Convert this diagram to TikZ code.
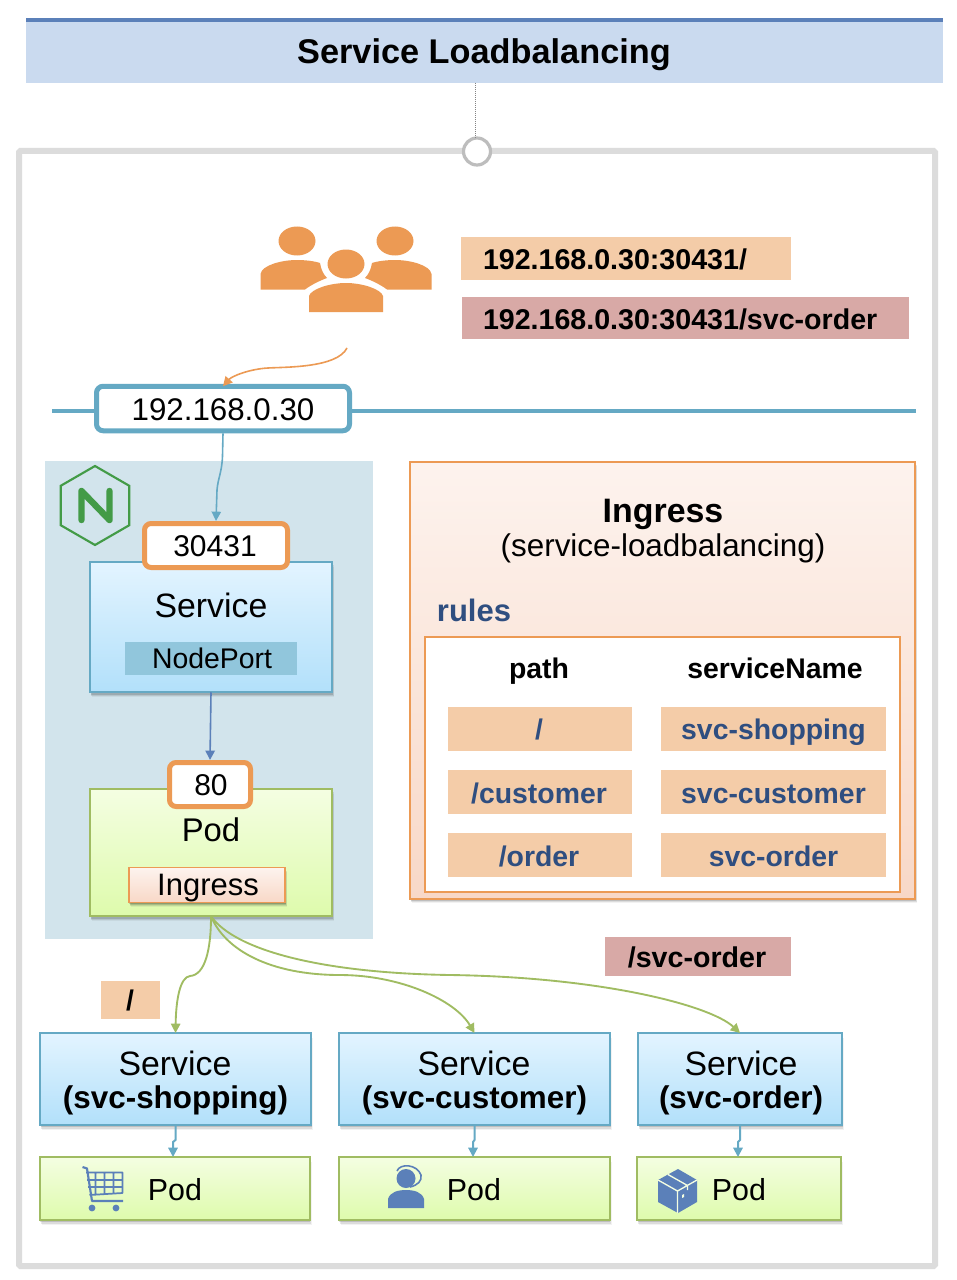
\documentclass[tikz,border=0pt]{standalone}
\usepackage{fontspec}
\setmainfont{Liberation Sans}
\usetikzlibrary{arrows.meta,shadows,shapes.geometric,calc}
\definecolor{nettl}{HTML}{65A9C4}
\definecolor{orng}{HTML}{EC9A54}
\definecolor{bluel}{HTML}{5B80B9}
\definecolor{grn}{HTML}{A0BC62}
\definecolor{peach}{HTML}{F4CCA8}
\definecolor{rose}{HTML}{D8A9A6}
\definecolor{navy}{HTML}{2F4E80}
\definecolor{titlefill}{HTML}{CADAEF}
\definecolor{panelfill}{HTML}{D2E4EC}
\definecolor{framec}{HTML}{DCDCDC}
\definecolor{ringc}{HTML}{BDBDBD}
\definecolor{nportc}{HTML}{91C6DC}
\definecolor{nginx}{HTML}{439B47}
\definecolor{Ea}{HTML}{E3F4FF}
\definecolor{Ba}{HTML}{B2E0FA}
\definecolor{Eb}{HTML}{F4FEE2}
\definecolor{Bb}{HTML}{DEFBAC}
\definecolor{Ec}{HTML}{FDF3EE}
\definecolor{Bc}{HTML}{F8D8C7}
\newcommand{\fpx}[1]{\fontsize{\dimexpr#1pt*3/4\relax}{\dimexpr#1pt*9/10\relax}\selectfont}
\tikzset{
 x=0.75pt,y=-0.75pt,
 wh/.style 2 args={minimum width=#1*0.75pt,minimum height=#2*0.75pt,inner sep=0pt,outer sep=0pt},
 softshadow/.style={
   drop shadow={shadow xshift=0.3pt,shadow yshift=-0.8pt,opacity=.16,fill=black},
   drop shadow={shadow xshift=0.7pt,shadow yshift=-1.7pt,opacity=.13,fill=black},
   drop shadow={shadow xshift=1.1pt,shadow yshift=-2.7pt,opacity=.09,fill=black},
   drop shadow={shadow xshift=1.5pt,shadow yshift=-3.7pt,opacity=.05,fill=black}},
 svcbox/.style={draw=nettl,line width=1.5pt,top color=Ea,bottom color=Ba,softshadow},
 podbox/.style={draw=grn,line width=1.5pt,top color=Eb,bottom color=Bb,softshadow},
 ingbox/.style={draw=orng,line width=1.5pt,top color=Ec,bottom color=Bc,softshadow},
 portbox/.style={draw=orng,line width=3.75pt,rounded corners=5pt,fill=white},
 lbl/.style={anchor=base,inner sep=0pt,outer sep=0pt,text=black},
 bold/.style={lbl,font=\fpx{#1}\bfseries},
 reg/.style={lbl,font=\fpx{#1}},
 rowbold/.style={bold=28.4,text=navy},
 flow/.style={line width=1.2pt,-{Triangle[length=7pt,width=7pt]}},
 gflow/.style={flow,grn,line width=1.4pt},
 stepflow/.style={flow,nettl,line width=1.5pt},
}
\begin{document}
\begin{tikzpicture}
\useasboundingbox (0,0) rectangle (956,1280);
\fill[white] (0,0) rectangle (956,1280);
% title
\node[wh={917}{65},fill=titlefill] (title) at (484.5,50.5) {};
\fill[bluel] (26,18) rectangle (943,22);
\node[bold=34.3] (titletext) at (484,64) {Service Loadbalancing};
% frame
\node[draw=framec,line width=4.5pt,wh={916}{1115},rounded corners=1pt] (frame) at (477,708.5) {};
\node[circle,draw=ringc,line width=2.4pt,fill=white,wh={27}{27}] (ring) at (477,151.5) {};
\coordinate (dottop) at (475.3,83);
\draw[ringc!70!black,line width=0.5pt,densely dotted] (dottop) -- (ring.north -| dottop);
% users
\begin{scope}[fill=orng]
\fill (297,241) ellipse [x radius=18.5,y radius=14.5];
\fill (395,241) ellipse [x radius=18.5,y radius=14.5];
\fill (346,264) ellipse [x radius=18.5,y radius=14.5];
\fill (260.5,289.5) -- (260.5,274) .. controls (262,265) and (282,260) .. (297,260) .. controls (305,260) and (314,261) .. (320,263) .. controls (321,269) and (323,274) .. (327,278) .. controls (319,281) and (311,285) .. (305,289.5) -- cycle;
\fill (431.5,289.5) -- (431.5,274) .. controls (430,265) and (410,260) .. (395,260) .. controls (387,260) and (378,261) .. (372,263) .. controls (371,269) and (369,274) .. (365,278) .. controls (373,281) and (381,285) .. (387,289.5) -- cycle;
\fill (309,312) -- (309,296) .. controls (311,289) and (330,283) .. (346,283) .. controls (362,283) and (381,289) .. (383,296) -- (383,312) -- cycle;
\end{scope}
\coordinate (users) at (347,348);
% request addresses
\node[wh={330}{43},fill=peach] (addr1) at (626,258.5) {};
\node[bold=28.6,anchor=base west] (addr1t) at (483,269) {192.168.0.30:30431/};
\node[wh={447}{42},fill=rose] (addr2) at (685.5,318) {};
\node[bold=28.6,anchor=base west] (addr2t) at (483,329) {192.168.0.30:30431/svc-order};
% network
\coordinate (netL) at (52,411);
\coordinate (netR) at (916,411);
\node[draw=nettl,line width=3.75pt,rounded corners=5pt,fill=white,wh={253}{44.5},outer sep=1.9pt] (ip) at (223,408.5) {};
\draw[nettl,line width=2.8pt] (netL) -- (ip.west |- netL);
\draw[nettl,line width=2.8pt] (ip.east |- netR) -- (netR);
\node[reg=31.3] (iptext) at (223,420) {192.168.0.30};
\draw[flow,orng] (users) .. controls (337,368) and (285,367) .. (268,368) .. controls (250,369) and (232,376) .. ($(ip.north)+(0,2.5)$);
% nginx panel
\node[wh={328}{478},fill=panelfill] (panel) at (209,700) {};
\node[regular polygon,regular polygon sides=6,regular polygon rotate=30,draw=nginx,line width=1.6pt,wh={79}{79}] (hex) at (95,505.5) {};
\draw[nginx,line width=4.8pt,line join=round,line cap=round] (81.5,520) -- (81.5,491) -- (109.5,520) -- (109.5,491);
% service
\node[svcbox,wh={242.5}{130.5}] (svc) at (211,627) {};
\node[portbox,wh={143}{44},outer sep=1.9pt] (port) at (216,545.5) {};
\node[reg=30] (porttext) at (215,556.5) {30431};
\node[reg=33.8] (svctext) at (211,617) {Service};
\node[wh={172}{33},fill=nportc] (nport) at (211,658.5) {};
\node[reg=28.4] (nporttext) at (212,668) {NodePort};
\draw[flow,nettl] (ip.south) -- (222.5,456) .. controls (222,472) and (218,478) .. (217,490) -- (port.north);
% pod
\node[podbox,wh={242.5}{127.5}] (pod) at (211,852.5) {};
\node[portbox,wh={81}{44},outer sep=1.9pt] (web) at (210,784.5) {};
\node[reg=30] (webtext) at (211,795.5) {80};
\node[reg=32.8] (podtext) at (211,841) {Pod};
\node[ingbox,wh={156.5}{35},line width=1.4pt] (ingr) at (207,885) {};
\node[reg=31] (ingrtext) at (208,895.5) {Ingress};
\draw[flow,bluel] (svc.south) -- (web.north);
% ingress panel
\node[ingbox,wh={505.5}{437}] (ing) at (662.5,680) {};
\node[bold=33.9] (ingt1) at (663,522) {Ingress};
\node[reg=31.4] (ingt2) at (663,556) {(service-loadbalancing)};
\node[bold=31,text=navy] (rules) at (474,621) {rules};
\node[draw=orng,line width=1.5pt,fill=white,wh={475}{255}] (rulebox) at (662.5,764.5) {};
\node[bold=28.4] (pathh) at (539,678) {path};
\node[bold=28.4] (snh) at (775,678) {serviceName};
\foreach \n/\y/\b/\p/\s in {a/729/739.5/{/}/svc-shopping,b/792/803/{/customer}/svc-customer,c/855/866/{/order}/svc-order}{
  \node[wh={184}{44},fill=peach] (p\n) at (540,\y) {};
  \node[wh={225}{44},fill=peach] (s\n) at (773.5,\y) {};
  \node[rowbold] (pt\n) at (539,\b) {\p};
  \node[rowbold] (st\n) at (773.5,\b) {\s};
}
% path tags
\node[wh={186}{39},fill=rose] (tagorder) at (698,956.5) {};
\node[bold=28.6] (tagordert) at (697,967) {/svc-order};
\node[wh={59}{38},fill=peach] (tagroot) at (130.5,1000) {};
\node[bold=28.4] (tagroott) at (130,1010) {/};
% backends
\node[svcbox,wh={271}{92}] (s1) at (175.5,1079) {};
\node[svcbox,wh={271}{92}] (s2) at (474.5,1079) {};
\node[svcbox,wh={204}{92}] (s3) at (740,1079) {};
\node[reg=33.8] (s1a) at (175,1075) {Service};
\node[bold=31.4] (s1b) at (175.5,1108.5) {(svc-shopping)};
\node[reg=33.8] (s2a) at (474,1075) {Service};
\node[bold=31.4] (s2b) at (474.5,1108.5) {(svc-customer)};
\node[reg=33.8] (s3a) at (741,1075) {Service};
\node[bold=31.4] (s3b) at (741,1108.5) {(svc-order)};
\node[podbox,wh={270}{63}] (p1) at (174.5,1188.5) {};
\node[podbox,wh={271}{63}] (p2) at (474,1188.5) {};
\node[podbox,wh={204}{63}] (p3) at (739,1188.5) {};
\node[reg=30.4] (p1t) at (175,1200) {Pod};
\node[reg=30.4] (p2t) at (474,1200) {Pod};
\node[reg=30.4] (p3t) at (739,1200) {Pod};
\draw[gflow] (pod.south) .. controls (211,950) and (205,975) .. (190,976) .. controls (180,977) and (176,1000) .. (s1.north);
\draw[gflow] (pod.south) .. controls (225,950) and (270,975) .. (340,975) .. controls (400,975) and (455,1000) .. (s2.north);
\draw[gflow] (pod.south) .. controls (235,950) and (320,973) .. (450,975) .. controls (600,977) and (710,1005) .. (s3.north);
\draw[stepflow] (s1.south) -- ++(0,15) -- ($(p1.north)+(-1.5,-15)$) -- ($(p1.north)+(-1.5,0)$);
\draw[stepflow] (s2.south) -- ++(0,15) -- ($(p2.north)+(-1,-15)$) -- ($(p2.north)+(-1,0)$);
\draw[stepflow] (s3.south) -- ++(0,15) -- ($(p3.north)+(-1,-15)$) -- ($(p3.north)+(-1,0)$);
% cart icon
\begin{scope}[bluel]
\draw[line width=1.6pt,line join=round] (82.5,1167) -- (87,1168.5) -- (92,1201) -- (123,1201);
\fill (92,1208) circle [radius=3.4];
\fill (116,1208) circle [radius=3.4];
\draw[line width=1.3pt,line join=round] (86,1172.5) -- (122.5,1172.5) -- (122.5,1193) -- (89.5,1195) (87,1180) -- (122.5,1180) (88,1187) -- (122.5,1187) (95.5,1172.5) -- (95.5,1194.5) (104.5,1172.5) -- (104.5,1194) (113.5,1172.5) -- (113.5,1193.5);
% agent icon
\fill (388,1208) -- (388,1199) .. controls (390,1192) and (398,1190) .. (406,1190) .. controls (414,1190) and (422,1192) .. (424,1199) -- (424,1208) -- cycle;
\fill (406,1178.5) circle [radius=9.5];
\draw[line width=1.2pt] (397,1171) .. controls (400,1163) and (417,1164) .. (421,1175) .. controls (422,1181) and (418,1185) .. (410,1187);
% box icon
\fill (678,1169) -- (697,1180) -- (697,1202) -- (678,1213) -- (658,1202) -- (658,1180) -- cycle;
\draw[Eb,line width=1pt,line join=round] (658,1180) -- (677.5,1191) -- (697,1180) (677.5,1191) -- (677.5,1213) (668,1174.5) -- (687.5,1185.5) -- (687.5,1190);
\fill[Eb] (682,1195) -- (684,1194) -- (684,1197) -- (682,1198) -- cycle;
\end{scope}
\end{tikzpicture}
\end{document}
